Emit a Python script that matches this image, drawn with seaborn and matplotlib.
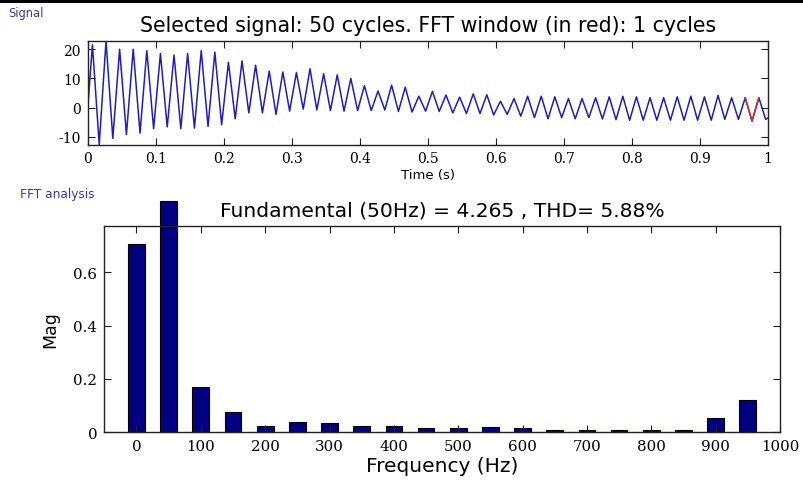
import numpy as np
import pandas as pd
import matplotlib
matplotlib.use("Agg")
import matplotlib.pyplot as plt
import seaborn as sns
from matplotlib.patches import Rectangle

# ---------------- data ----------------
f0 = 50                      # fundamental (Hz)
n_cycles = 50
peak_phase = 0.0065          # time of first positive peak (s)
trough_phase = 0.0165        # time of first negative peak (s)

# positive peak of each cycle
peak_vals = [21.5, 22.8, 20.0, 20.0, 19.5, 18.5, 18.0, 18.5, 19.5, 19.0,
             15.5, 16.0, 14.5, 12.5, 12.2, 12.0, 13.3, 11.6, 11.2, 10.0,
             7.5, 5.7, 7.7, 7.0, 3.9, 5.6, 4.3, 3.6, 4.7, 4.4,
             2.2, 3.1, 3.9, 3.9, 3.7, 3.1, 3.1, 3.4, 3.7, 3.9,
             3.7, 3.4, 3.4, 3.7, 3.9, 3.7, 4.2, 3.4, 3.4, 3.4]
# negative peak of each cycle
trough_vals = [-12.6, -10.5, -9.2, -8.7, -7.2, -6.6, -7.2, -7.0, -6.4, -5.8,
               -3.8, -1.8, -1.8, -2.3, -1.2, -0.5, -0.8, -1.0, -1.2, -1.0,
               -1.0, -0.8, -1.3, -1.5, -1.2, -1.3, -1.8, -2.0, -2.0, -2.5,
               -2.3, -2.9, -3.4, -3.8, -3.4, -3.8, -3.4, -3.9, -4.1, -4.3,
               -4.3, -4.3, -4.3, -4.3, -4.3, -4.3, -4.0, -4.0, -4.6, -4.0]
start_val = 1.0
end_val = -3.5
window_cycle = 48            # cycle shown in red (FFT window)

harm_freqs = [0, 50, 100, 150, 200, 250, 300, 350, 400, 450,
              500, 550, 600, 650, 700, 750, 800, 850, 900, 950]
harm_mags = [0.706, 0.869, 0.169, 0.075, 0.025, 0.039, 0.035, 0.025, 0.025, 0.015,
             0.015, 0.019, 0.015, 0.0075, 0.0075, 0.0075, 0.0075, 0.0075, 0.054, 0.121]

top_title = "Selected signal: 50 cycles. FFT window (in red): 1 cycles"
bot_title = "Fundamental (50Hz) = 4.265 , THD= 5.88%"
time_ticks = [0, 0.1, 0.2, 0.3, 0.4, 0.5, 0.6, 0.7, 0.8, 0.9, 1]
time_labels = ["0", "0.1", "0.2", "0.3", "0.4", "0.5", "0.6", "0.7", "0.8", "0.9", "1"]
sig_yticks = [-10, 0, 10, 20]
freq_ticks = [0, 100, 200, 300, 400, 500, 600, 700, 800, 900, 1000]
mag_ticks = [0, 0.2, 0.4, 0.6]
mag_labels = ["0", "0.2", "0.4", "0.6"]

# ---------------- build series ----------------
times = [0.0]
vals = [start_val]
for k in range(n_cycles):
    times += [peak_phase + k / f0, trough_phase + k / f0]
    vals += [peak_vals[k], trough_vals[k]]
times.append(1.0)
vals.append(end_val)
sig = pd.DataFrame({"t": times, "v": vals})
i0 = 1 + 2 * window_cycle
win = sig.iloc[i0:i0 + 3]

fft = pd.DataFrame({"f": harm_freqs, "m": harm_mags})

# ---------------- style ----------------
plt.rcParams["axes.unicode_minus"] = False
plt.rcParams["font.family"] = ["DejaVu Sans"]
SERIF = "DejaVu Serif"

fig = plt.figure(figsize=(8.04, 4.81), dpi=100)
fig.patch.set_facecolor("white")
fig.patches.append(Rectangle((0, 1 - 3.5 / 481), 1, 3.5 / 481, transform=fig.transFigure,
                             facecolor="black", edgecolor="none"))

ax1 = fig.add_axes([88 / 804, 1 - 145.5 / 481, 680 / 804, 103.5 / 481])
ax2 = fig.add_axes([104.3 / 804, 1 - 433.3 / 481, 675.7 / 804, 206.6 / 481])

blue = "#1f1fb5"
red = "#cc3030"
sns.lineplot(data=sig, x="t", y="v", ax=ax1, color=blue, linewidth=1.1, sort=False,
             estimator=None)
sns.lineplot(data=win, x="t", y="v", ax=ax1, color=red, linewidth=1.1, sort=False,
             estimator=None)
ax1.set_xlim(0, 1)
ax1.set_ylim(min(trough_vals), max(peak_vals))
ax1.set_xticks(time_ticks)
ax1.set_xticklabels(time_labels)
ax1.set_yticks(sig_yticks)
ax1.set_yticklabels([str(v) for v in sig_yticks])
ax1.set_xlabel("Time (s)", fontsize=9.5, labelpad=2)
ax1.set_ylabel("")
ax1.set_title(top_title, fontsize=14.8, pad=7.5)

sns.barplot(data=fft, x="f", y="m", ax=ax2, native_scale=True, color="#000080",
            saturation=1, edgecolor="black", linewidth=0.8, width=0.52, errorbar=None)
for p in ax2.patches:
    p.set_clip_on(False)
ax2.set_xlim(-50, 1000)
ax2.set_ylim(0, 0.775)
ax2.set_xticks(freq_ticks)
ax2.set_xticklabels([str(v) for v in freq_ticks])
ax2.set_yticks(mag_ticks)
ax2.set_yticklabels(mag_labels)
ax2.set_xlabel("Frequency (Hz)", fontsize=14.5, labelpad=2)
ax2.set_ylabel("Mag", fontsize=12.5, labelpad=10)
ax2.set_title(bot_title, fontsize=14.6, pad=7.5)

for ax, fs in ((ax1, 10), (ax2, 10.8)):
    ax.set_facecolor("white")
    for s in ax.spines.values():
        s.set_visible(True)
        s.set_color("#222222")
        s.set_linewidth(1.0)
    ax.tick_params(direction="in", length=5, width=0.8, top=True, right=True,
                   colors="#222222", labelsize=fs, pad=5)
    for lab in ax.get_xticklabels() + ax.get_yticklabels():
        lab.set_family(SERIF)
        lab.set_color("black")
    ax.grid(False)

fig.text(8 / 804, 1 - 17 / 481, "Signal", fontsize=8.3, color="#3a3aa0")
fig.text(20 / 804, 1 - 198 / 481, "FFT analysis", fontsize=8.7, color="#3a3aa0")

fig.savefig("out.png", dpi=100)
